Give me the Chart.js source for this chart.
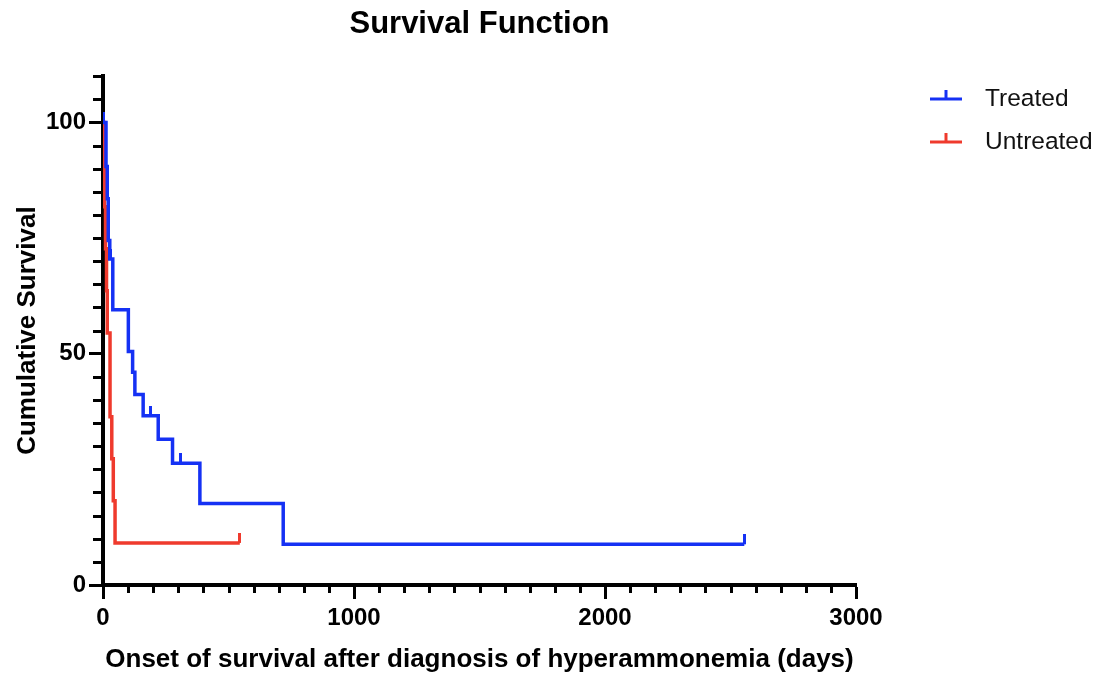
<!DOCTYPE html>
<html>
<head>
<meta charset="utf-8">
<title>Survival Function</title>
<script src="https://cdn.jsdelivr.net/npm/chart.js@4.4.1/dist/chart.umd.min.js"></script>
<style>
    body { margin: 0; background: #fff; }
    .wrap { position: relative; width: 1101px; height: 678px; }
    .legend {
        position: absolute;
        left: 930px;
        top: 80px;
        font: 24.5px 'Liberation Sans', Arial, sans-serif;
        color: #111;
    }
    .legend-item { display: flex; align-items: center; height: 36px; margin-bottom: 7px; }
    .legend-item svg { margin-right: 23px; }
</style>
</head>
<body>
<div class="wrap">
    <canvas id="survivalChart" width="1101" height="678"></canvas>
    <div class="legend" id="legend"></div>
</div>
<script>
// Series names and colours
const seriesNames = ['Treated', 'Untreated'];
const seriesColors = ['#1531f4', '#ef3a2d'];

// Kaplan-Meier steps (days, % surviving)
const treatedDays = [0, 12, 17, 21, 27, 39, 101, 118, 127, 160, 220, 277, 386, 718, 2555];
const treatedSurvival = [100, 90.5, 83.5, 74.5, 70.5, 59.5, 50.5, 46, 41.2, 36.6, 31.5, 26.3, 17.6, 8.8, 8.8];
const treatedCensorDays = [1, 30, 188, 307, 2555];
const treatedCensorSurvival = [100, 70.5, 36.6, 26.3, 8.8];

const untreatedDays = [0, 6, 10, 14, 17, 28, 35, 41, 48, 545];
const untreatedSurvival = [100, 81.8, 72.7, 63.6, 54.5, 36.4, 27.3, 18.2, 9.1, 9.1];
const untreatedCensorDays = [545];
const untreatedCensorSurvival = [9.1];

// Axis ticks
const xMax = 3000, xStep = 1000, xMinorStep = 100;
const yMax = 110, yStep = 50, yMinorStep = 5;

const fontFamily = "'Liberation Sans', Arial, Helvetica, sans-serif";

function toPoints(xs, ys) {
    return xs.map((x, i) => ({ x: x, y: ys[i] }));
}

// small upward tick used for censored cases
function censorMark(color) {
    const c = document.createElement('canvas');
    c.width = 3;
    c.height = 20;
    const g = c.getContext('2d');
    g.fillStyle = color;
    g.fillRect(0, 0, 3, 10);
    return c;
}

// short minor ticks between the labelled ones
const minorTicks = {
    id: 'minorTicks',
    beforeDatasetsDraw(chart) {
        const { ctx, chartArea, scales: { x, y } } = chart;
        ctx.save();
        ctx.strokeStyle = '#000';
        ctx.lineWidth = 3;
        for (let v = 0; v <= yMax; v += yMinorStep) {
            if (v % yStep === 0) continue;
            const py = Math.round(y.getPixelForValue(v)) + 0.5;
            ctx.beginPath();
            ctx.moveTo(chartArea.left - 10, py);
            ctx.lineTo(chartArea.left, py);
            ctx.stroke();
        }
        for (let v = 0; v <= xMax; v += xMinorStep) {
            if (v % xStep === 0) continue;
            const px = Math.round(x.getPixelForValue(v)) + 0.5;
            ctx.beginPath();
            ctx.moveTo(px, chartArea.bottom);
            ctx.lineTo(px, chartArea.bottom + 8);
            ctx.stroke();
        }
        ctx.restore();
    }
};

const stepLine = (label, xs, ys, color) => ({
    label: label,
    data: toPoints(xs, ys),
    stepped: 'before',
    borderColor: color,
    backgroundColor: color,
    borderWidth: 3.5,
    pointRadius: 0,
    fill: false,
});

const censorSet = (label, xs, ys, color) => ({
    label: label + ' censored',
    data: toPoints(xs, ys),
    showLine: false,
    pointStyle: censorMark(color),
    pointRadius: 6,
    borderColor: color,
    backgroundColor: color,
});

const axisFont = { family: fontFamily, size: 24, weight: 'bold' };
const titleFont = { family: fontFamily, size: 26, weight: 'bold' };

new Chart(document.getElementById('survivalChart').getContext('2d'), {
    type: 'line',
    data: {
        datasets: [
            stepLine(seriesNames[0], treatedDays, treatedSurvival, seriesColors[0]),
            censorSet(seriesNames[0], treatedCensorDays, treatedCensorSurvival, seriesColors[0]),
            stepLine(seriesNames[1], untreatedDays, untreatedSurvival, seriesColors[1]),
            censorSet(seriesNames[1], untreatedCensorDays, untreatedCensorSurvival, seriesColors[1]),
        ],
    },
    options: {
        responsive: false,
        animation: false,
        layout: { padding: { left: 0, right: 245, top: 0, bottom: 0 } },
        plugins: {
            legend: { display: false },
            tooltip: { enabled: false },
            title: {
                display: true,
                text: 'Survival Function',
                fullSize: false,
                color: '#000',
                font: { family: fontFamily, size: 31, weight: 'bold' },
                padding: { top: 6, bottom: 33 },
            },
        },
        scales: {
            x: {
                type: 'linear',
                min: 0,
                max: xMax,
                ticks: {
                    stepSize: xStep,
                    padding: 5,
                    color: '#000',
                    font: axisFont,
                    maxRotation: 0,
                    callback: value => String(value),
                },
                grid: { drawOnChartArea: false, tickLength: 14, tickWidth: 3, tickColor: '#000' },
                border: { color: '#000', width: 4 },
                title: {
                    display: true,
                    text: 'Onset of survival after diagnosis of hyperammonemia (days)',
                    color: '#000',
                    font: titleFont,
                    padding: { top: 0, bottom: 3 },
                },
                afterFit(scale) { scale.height = 93; },
            },
            y: {
                min: 0,
                max: yMax,
                ticks: { stepSize: yStep, includeBounds: false, padding: 3, color: '#000', font: axisFont },
                grid: { drawOnChartArea: false, tickLength: 14, tickWidth: 3, tickColor: '#000' },
                border: { color: '#000', width: 4 },
                title: {
                    display: true,
                    text: 'Cumulative Survival',
                    color: '#000',
                    font: titleFont,
                    padding: { top: 12, bottom: 0 },
                },
                afterFit(scale) { scale.width = 103; },
            },
        },
    },
    plugins: [minorTicks],
});

// HTML legend: line with a censor tick, then the name
const legend = document.getElementById('legend');
seriesNames.forEach((name, i) => {
    const item = document.createElement('div');
    item.className = 'legend-item';
    const color = seriesColors[i];
    item.innerHTML =
        '<svg width="32" height="20" viewBox="0 0 32 20">' +
        '<line x1="0" y1="11" x2="32" y2="11" stroke="' + color + '" stroke-width="3"/>' +
        '<line x1="16" y1="2" x2="16" y2="11" stroke="' + color + '" stroke-width="3"/>' +
        '</svg>';
    const text = document.createElement('span');
    text.textContent = name;
    item.appendChild(text);
    legend.appendChild(item);
});
</script>
</body>
</html>
